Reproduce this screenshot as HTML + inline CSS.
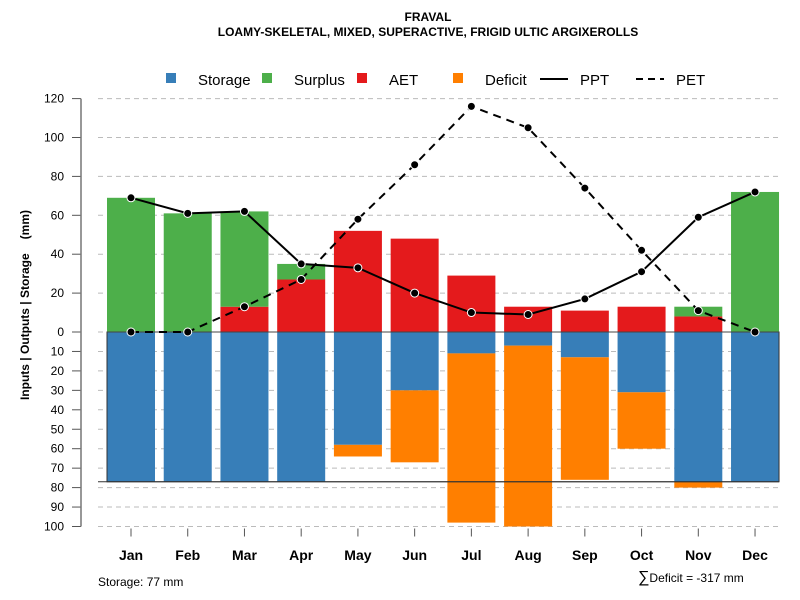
<!DOCTYPE html>
<html><head><meta charset="utf-8"><style>
body{margin:0;background:#fff;}
svg{font-family:"Liberation Sans",sans-serif;display:block;}
</style></head><body>
<svg id="chart" width="800" height="600">
<text x="428" y="21" text-anchor="middle" font-size="12" font-weight="bold">FRAVAL</text>
<text x="428" y="36" text-anchor="middle" font-size="12" font-weight="bold">LOAMY-SKELETAL, MIXED, SUPERACTIVE, FRIGID ULTIC ARGIXEROLLS</text>
<g id="grid"></g><g id="bars"></g><g id="lines"></g><g id="axes"></g>
<g font-size="15">
<rect x="166" y="73" width="10" height="10" fill="#377eb8"/>
<text x="198" y="85">Storage</text>
<rect x="262" y="73" width="10" height="10" fill="#4daf4a"/>
<text x="294" y="85">Surplus</text>
<rect x="357" y="73" width="10" height="10" fill="#e41a1c"/>
<text x="389" y="85">AET</text>
<rect x="453" y="73" width="10" height="10" fill="#ff7f00"/>
<text x="485" y="85">Deficit</text>
<line x1="540" y1="79" x2="568" y2="79" stroke="#000" stroke-width="2"/>
<text x="580" y="85">PPT</text>
<line x1="636" y1="79" x2="664" y2="79" stroke="#000" stroke-width="2" stroke-dasharray="7,5"/>
<text x="676" y="85">PET</text>
</g>
<text transform="translate(29,305) rotate(-90)" text-anchor="middle" font-size="12" font-weight="bold">Inputs | Outputs | Storage<tspan dx="14">(mm)</tspan></text>
<text x="98" y="586" font-size="12">Storage: 77 mm</text>
<text x="638" y="582" font-size="12"><tspan font-size="16">∑</tspan>Deficit = -317 mm</text>
</svg>
<script>
const months=["Jan","Feb","Mar","Apr","May","Jun","Jul","Aug","Sep","Oct","Nov","Dec"];
const ppt=[69,61,62,35,33,20,10,9,17,31,59,72];
const pet=[0,0,13,27,58,86,116,105,74,42,11,0];
const aet=[0,0,13,27,52,48,29,13,11,13,8,0];
const surplus=[69,61,49,8,0,0,0,0,0,0,5,72];
const storage=[77,77,77,77,58,30,11,7,13,31,77,77];
const deficit=[0,0,0,0,6,37,87,93,63,29,3,0];
const upTicks=[0,20,40,60,80,100,120];
const downTicks=[10,20,30,40,50,60,70,80,90,100];
const storageCap=77;
const NS="http://www.w3.org/2000/svg";
const Y0=332, K=1.945;
const yUp=v=>Y0-v*K, yDn=v=>Y0+v*K;
const xC=i=>131+i*56.73, BW=48;
function mk(p,t,a){const e=document.createElementNS(NS,t);for(const k in a)e.setAttribute(k,a[k]);p.appendChild(e);return e;}
const grid=document.getElementById('grid'),bars=document.getElementById('bars'),lines=document.getElementById('lines'),axes=document.getElementById('axes');
upTicks.forEach(v=>{const y=yUp(v);
 const g=mk(grid,'line',{x1:98,x2:780,y1:y,y2:y,stroke:'#bbb','stroke-dasharray':'5,4'});
 
 const t=mk(axes,'line',{x1:72,x2:81,y1:y,y2:y,stroke:'#555'});
 
 const l=mk(axes,'text',{x:64,y:y+4,'text-anchor':'end','font-size':12});l.textContent=v;
 });
downTicks.forEach(v=>{const y=yDn(v);
 const g=mk(grid,'line',{x1:98,x2:780,y1:y,y2:y,stroke:'#bbb','stroke-dasharray':'5,4'});
 
 const t=mk(axes,'line',{x1:72,x2:81,y1:y,y2:y,stroke:'#555'});
 
 const l=mk(axes,'text',{x:64,y:y+4,'text-anchor':'end','font-size':12});l.textContent=v;
 });
const ax=mk(axes,'line',{x1:81,x2:81,y1:yUp(120),y2:yDn(100),stroke:'#777','stroke-width':1.5});

months.forEach((m,i)=>{const x=xC(i),x0=x-BW/2;
 let r=mk(bars,'rect',{x:x0,y:yUp(aet[i]),width:BW,height:aet[i]*K,fill:'#e41a1c'});
 
 r=mk(bars,'rect',{x:x0,y:yUp(aet[i]+surplus[i]),width:BW,height:surplus[i]*K,fill:'#4daf4a'});
 
 r=mk(bars,'rect',{x:x0,y:Y0,width:BW,height:storage[i]*K,fill:'#377eb8'});
 
 r=mk(bars,'rect',{x:x0,y:yDn(storage[i]),width:BW,height:deficit[i]*K,fill:'#ff7f00'});
 
 const t=mk(axes,'line',{x1:x,x2:x,y1:yDn(100)+2,y2:yDn(100)+10,stroke:'#555'});
 
 const l=mk(axes,'text',{x:x,y:560,'text-anchor':'middle','font-size':14,'font-weight':'bold'});l.textContent=m;
 });
const box=mk(bars,'rect',{x:xC(0)-BW/2,y:Y0,width:xC(11)+BW/2-(xC(0)-BW/2),height:storageCap*K,fill:'none',stroke:'#333','stroke-width':1});

const hl=mk(bars,'line',{x1:98,x2:xC(11)+BW/2,y1:yDn(storageCap),y2:yDn(storageCap),stroke:'#333'});

const zl=mk(bars,'line',{x1:xC(0)-BW/2,x2:xC(11)+BW/2,y1:Y0,y2:Y0,stroke:'#444'});

function series(vals,name,dash){
 const p=mk(lines,'polyline',{points:vals.map((v,i)=>xC(i)+','+yUp(v)).join(' '),fill:'none',stroke:'#000','stroke-width':2,'stroke-dasharray':dash});
 
 vals.forEach((v,i)=>{const c=mk(lines,'circle',{cx:xC(i),cy:yUp(v),r:4,fill:'#000',stroke:'#fff','stroke-width':1});
  });}
series(pet,'pet','8,6');
series(ppt,'ppt','none');
</script>
</body></html>
